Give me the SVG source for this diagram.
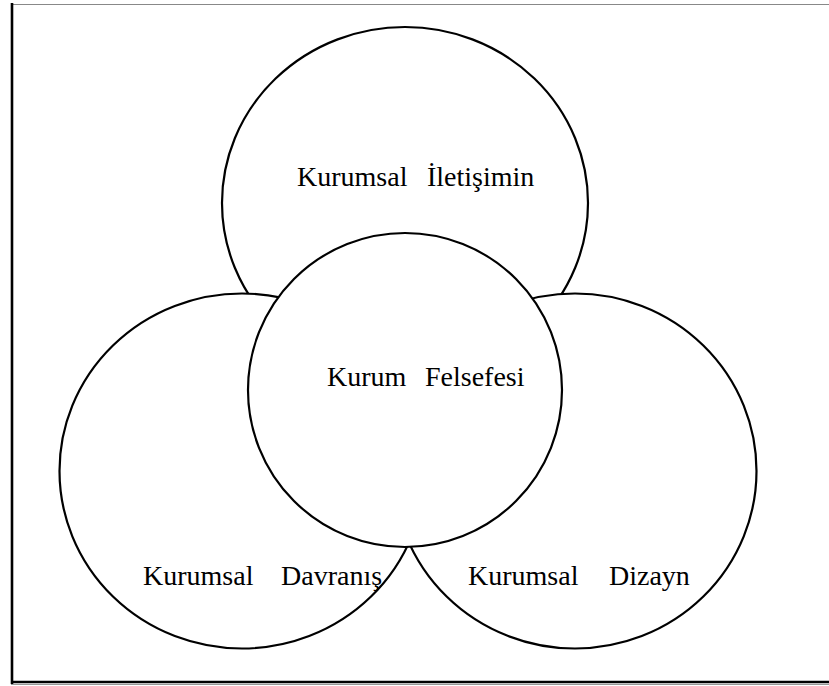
<svg xmlns="http://www.w3.org/2000/svg" width="829" height="686" viewBox="0 0 829 686">
<style>
.c{fill:#fff;stroke:#000;stroke-width:2.2}
.t{font-family:"Liberation Serif","Times New Roman",serif;font-size:28px;fill:#000}
</style>
<rect width="829" height="686" fill="#fff"/>
<g id="frame">
<line x1="12" y1="4.5" x2="829" y2="4.5" stroke="#888" stroke-width="1.2"/>
<line x1="12" y1="3" x2="12" y2="684" stroke="#000" stroke-width="2.6"/>
<line x1="11" y1="682" x2="829" y2="682" stroke="#000" stroke-width="2.6"/>
<line x1="11" y1="684.5" x2="829" y2="684.5" stroke="#999" stroke-width="1"/>
</g>
<g id="connectors"></g>
<g id="iletisim">
<ellipse class="c" cx="405" cy="203" rx="183" ry="176"/>
<text class="t" x="297" y="186">Kurumsal</text>
<text class="t" x="427" y="186">İletişimin</text>
</g>
<g id="davranis">
<ellipse class="c" cx="242" cy="471" rx="182.5" ry="177.5"/>
</g>
<g id="dizayn">
<ellipse class="c" cx="575" cy="471" rx="181.5" ry="177.5"/>
<text class="t" x="468" y="585">Kurumsal</text>
<text class="t" x="609" y="585">Dizayn</text>
</g>
<g id="davranis-label">
<text class="t" x="143" y="585">Kurumsal</text>
<text class="t" x="281" y="585">Davranış</text>
</g>
<g id="felsefe">
<circle class="c" cx="405" cy="390" r="157"/>
<text class="t" x="327" y="386">Kurum</text>
<text class="t" x="425" y="386">Felsefesi</text>
</g>
</svg>
